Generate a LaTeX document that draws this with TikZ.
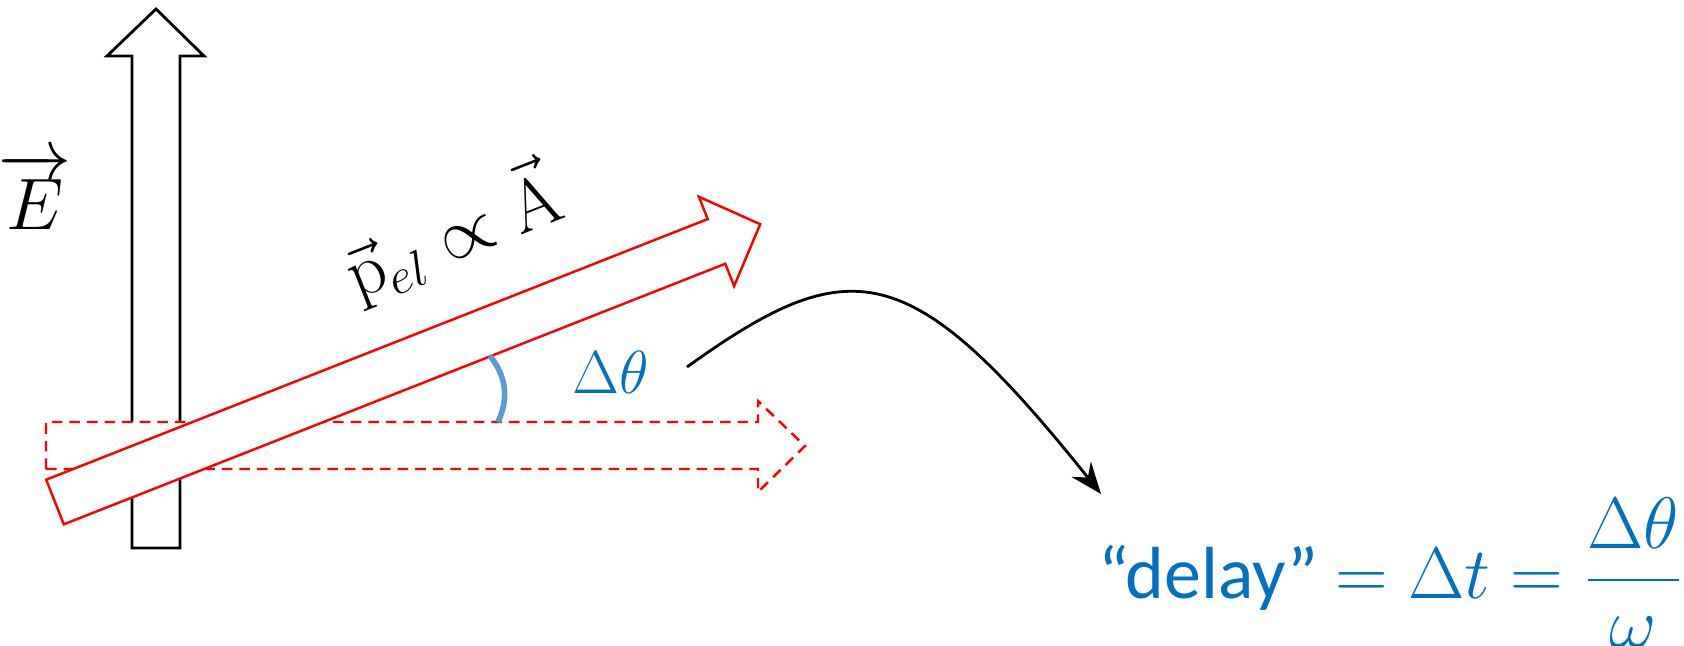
\documentclass[tikz,border=0pt]{standalone}
\usepackage[no-math]{fontspec}
\setmainfont{Carlito}
\usepackage{amsmath}
\usetikzlibrary{arrows.meta}
\definecolor{wordblue}{HTML}{0070C0}
\definecolor{arcblue}{HTML}{5B9BD5}

\begin{document}
\begin{tikzpicture}[x=0.01cm, y=0.01cm]
  \tikzset{
    fat/.style={line width=0.8pt, fill=white, line join=miter},
    field/.style={fat, draw=black},
    mom/.style={fat, draw=red, line width=0.7pt},
    momold/.style={mom, dash pattern=on 3pt off 2pt},
    lbl/.style={font=\fontsize{20}{24}\selectfont, inner sep=0pt},
    blu/.style={text=wordblue, inner sep=0pt},
    swoop/.style={draw=black, line width=0.8pt, -{Stealth[length=9pt,width=7pt,inset=3pt]}}
  }
  \useasboundingbox (0,0) rectangle (1684,645);

  % E field arrow
  \draw[field] (132,97) -- (132,589) -- (107,589) -- (156,636) -- (204,589) -- (180,589) -- (180,97) -- cycle;
  \node[lbl] (efield) at (35,454) {$\overrightarrow{E}$};

  % old momentum (dashed)
  \draw[momold] (46,176) -- (758,176) -- (758,153) -- (805,199) -- (758,244) -- (758,223) -- (46,223) -- cycle;

  % tilted momentum
  \begin{scope}[shift={(55,143)}, rotate=21.5]
    \draw[mom] (0,-24) -- (711,-24) -- (711,-48) -- (758,0) -- (711,48) -- (711,24) -- (0,24) -- cycle;
  \end{scope}
  \node[lbl, rotate=21.5] (pel) at (452,413) {$\vec{\mathrm{p}}_{el}\propto\vec{\mathrm{A}}$};

  % angle
  \draw[arcblue, line width=1.6pt] (498,223) to[bend right=32] (490,289);
  \node[blu, font=\fontsize{16}{19}\selectfont] (dtheta) at (611,273) {$\Delta\theta$};

  % delay
  \node[blu, font=\fontsize{21}{25}\selectfont, anchor=south east] (delay) at (1684,-4) {“delay” $= \Delta t = \dfrac{\Delta\theta}{\omega}$};
  \coordinate (from) at (687,278);
  \coordinate (to) at (1101,151);
  \draw[swoop] (from) .. controls (850,395) and (910,390) .. (to);

\end{tikzpicture}
\end{document}
